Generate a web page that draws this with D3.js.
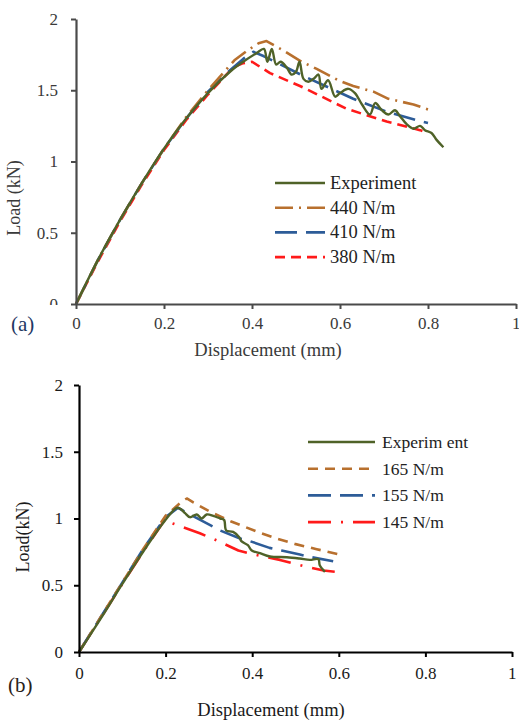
<!DOCTYPE html>
<html lang="en">
<head>
  <meta charset="UTF-8">
  <title>Load vs displacement</title>
  <script src="https://d3js.org/d3.v7.min.js"></script>
  <style>
    body { margin: 0; background: #fff; }
    svg text { font-family: "Liberation Serif", "Times New Roman", serif; }
  </style>
</head>
<body>
  <div id="chart"></div>
  <script>
    // tick values shared by both panels
    const xTicks = [0, 0.2, 0.4, 0.6, 0.8, 1];
    const yTicks = [0, 0.5, 1, 1.5, 2];

    // panel (a): [displacement mm, load kN]
    const expA = [[0,0],[0.05,0.31],[0.1,0.59],[0.15,0.85],[0.2,1.09],[0.25,1.30],[0.3,1.48],[0.35,1.63],[0.38,1.70],[0.41,1.76],
      [0.427,1.79],[0.435,1.70],[0.445,1.79],[0.455,1.68],[0.465,1.70],[0.479,1.66],[0.49,1.61],[0.50,1.63],[0.508,1.70],[0.517,1.58],
      [0.528,1.56],[0.54,1.58],[0.551,1.61],[0.558,1.51],[0.573,1.57],[0.589,1.455],[0.60,1.48],[0.619,1.51],[0.634,1.48],[0.65,1.40],
      [0.668,1.33],[0.68,1.41],[0.695,1.36],[0.71,1.33],[0.725,1.36],[0.736,1.32],[0.752,1.26],[0.767,1.23],[0.782,1.25],[0.793,1.22],
      [0.808,1.20],[0.82,1.15],[0.835,1.10]];
    const k440 = [[0,0],[0.05,0.31],[0.1,0.59],[0.15,0.85],[0.2,1.09],[0.25,1.31],[0.3,1.50],[0.36,1.71],[0.39,1.78],[0.415,1.83],
      [0.433,1.845],[0.471,1.78],[0.513,1.70],[0.547,1.65],[0.596,1.57],[0.63,1.53],[0.676,1.49],[0.71,1.44],[0.767,1.40],[0.805,1.36]];
    const k410 = [[0,0],[0.05,0.31],[0.1,0.59],[0.15,0.85],[0.2,1.09],[0.25,1.30],[0.3,1.49],[0.35,1.64],[0.38,1.72],[0.403,1.77],
      [0.426,1.74],[0.517,1.60],[0.63,1.44],[0.706,1.35],[0.774,1.29],[0.80,1.27]];
    const k380 = [[0,0],[0.05,0.30],[0.1,0.58],[0.15,0.84],[0.2,1.08],[0.25,1.29],[0.3,1.47],[0.357,1.66],[0.38,1.69],[0.40,1.70],
      [0.441,1.62],[0.509,1.53],[0.615,1.37],[0.706,1.28],[0.782,1.22],[0.80,1.20]];

    // panel (b)
    const expB = [[0,0],[0.05,0.25],[0.1,0.51],[0.15,0.76],[0.2,0.99],[0.226,1.08],[0.235,1.07],[0.245,1.04],[0.256,1.01],[0.272,1.03],
      [0.283,1.00],[0.295,1.03],[0.31,1.02],[0.326,1.00],[0.335,0.99],[0.34,0.91],[0.356,0.90],[0.37,0.86],[0.375,0.83],[0.39,0.80],
      [0.399,0.76],[0.418,0.74],[0.441,0.715],[0.48,0.71],[0.51,0.70],[0.533,0.69],[0.553,0.695],[0.556,0.65],[0.568,0.60]];
    const k165 = [[0,0],[0.05,0.26],[0.1,0.52],[0.15,0.78],[0.2,1.02],[0.214,1.06],[0.235,1.12],[0.249,1.15],[0.264,1.12],[0.303,1.05],
      [0.35,0.98],[0.42,0.89],[0.456,0.85],[0.498,0.81],[0.549,0.77],[0.603,0.73]];
    const k155 = [[0,0],[0.05,0.26],[0.1,0.52],[0.15,0.78],[0.2,1.01],[0.229,1.08],[0.256,1.03],[0.303,0.95],[0.326,0.91],[0.372,0.85],
      [0.395,0.83],[0.44,0.78],[0.468,0.76],[0.51,0.73],[0.537,0.71],[0.587,0.68]];
    const k145 = [[0,0],[0.05,0.255],[0.1,0.51],[0.15,0.76],[0.2,1.00],[0.206,0.975],[0.279,0.89],[0.322,0.83],[0.368,0.76],[0.418,0.72],
      [0.464,0.69],[0.518,0.645],[0.565,0.61],[0.595,0.60]];

    const labelsA = ["Experiment", "440 N/m", "410 N/m", "380 N/m"];
    const labelsB = ["Experim ent", "165 N/m", "155 N/m", "145 N/m"];

    const svg = d3.select("#chart").append("svg")
      .attr("width", 519).attr("height", 722);

    // one panel
    function drawPanel(p) {
      const x = d3.scaleLinear().domain([0, 1]).range([p.left, p.right]);
      const y = d3.scaleLinear().domain([0, 2]).range([p.bottom, p.top]);
      const g = svg.append("g");

      const line = d3.line().x(d => x(d[0])).y(d => y(d[1]));

      // series, experiment on top
      const order = [3, 2, 1, 0];
      order.forEach(i => {
        const s = p.series[i];
        g.append("path")
          .datum(s.data)
          .attr("fill", "none")
          .attr("stroke", s.color)
          .attr("stroke-width", i === 0 ? 2.4 : 2.6)
          .attr("stroke-dasharray", s.dash)
          .attr("stroke-linejoin", "round")
          .attr("d", i === 0 ? line.curve(d3.curveCatmullRom)(s.data) : line.curve(d3.curveLinear)(s.data));
      });

      // axes
      const ax = g.append("g")
        .attr("transform", `translate(0,${p.bottom})`)
        .call(d3.axisBottom(x).tickValues(xTicks).tickFormat(d3.format("")).tickSize(5).tickSizeOuter(0).tickPadding(p.xPad));
      const ay = g.append("g")
        .attr("transform", `translate(${p.left},0)`)
        .call(d3.axisLeft(y).tickValues(yTicks).tickFormat(d3.format("")).tickSize(5).tickSizeOuter(0).tickPadding(p.yPad));
      [ax, ay].forEach(a => {
        a.select(".domain").attr("stroke", p.axisColor).attr("stroke-width", 2.2);
        a.selectAll(".tick line").attr("stroke", p.axisColor).attr("stroke-width", 2);
        a.selectAll(".tick text").attr("fill", p.textColor).style("font-size", "17px")
          .style("font-family", '"Liberation Serif", "Times New Roman", serif');
      });
      // keep the last x label inside the page
      ax.selectAll(".tick text").filter(d => d === 1).attr("text-anchor", "end").attr("x", 4);

      // axis titles
      g.append("text")
        .attr("x", p.xTitle[0]).attr("y", p.xTitle[1])
        .attr("text-anchor", "middle")
        .attr("fill", p.textColor)
        .style("font-size", "18.5px")
        .text("Displacement (mm)");
      g.append("text")
        .attr("transform", `translate(${p.yTitle[0]},${p.yTitle[1]}) rotate(-90)`)
        .attr("text-anchor", "middle")
        .attr("fill", p.textColor)
        .style("font-size", "18px")
        .text(p.yLabel);

      // panel tag
      g.append("text")
        .attr("x", p.tag[0]).attr("y", p.tag[1])
        .attr("fill", p.tagColor)
        .style("font-size", "21px")
        .text(p.tagText);

      // legend
      const lg = g.append("g");
      p.series.forEach((s, i) => {
        const ly = p.legend.y + i * p.legend.step;
        lg.append("line")
          .attr("x1", p.legend.x0).attr("x2", p.legend.x1)
          .attr("y1", ly).attr("y2", ly)
          .attr("stroke", s.color).attr("stroke-width", 2.6)
          .attr("stroke-dasharray", s.dash);
        lg.append("text")
          .attr("x", p.legend.tx).attr("y", ly + 6)
          .attr("fill", "#222")
          .style("font-size", p.legend.size)
          .text(s.label);
      });
      return g;
    }

    const green = "#4f6228", brown = "#b8702e", blue = "#2d5c98", red = "#ff1a1a";

    const gA = drawPanel({
      left: 76, right: 516, top: 19, bottom: 304,
      xPad: 8, yPad: 13,
      axisColor: "#4a4a4a", textColor: "#3a3a3a",
      xTitle: [268, 356], yTitle: [20, 198], yLabel: "Load (kN)",
      tag: [11, 331], tagText: "(a)", tagColor: "#1f3864",
      legend: { x0: 275, x1: 325, tx: 330, y: 183, step: 24.7, size: "18.5px" },
      series: [
        { label: labelsA[0], data: expA, color: green, dash: null },
        { label: labelsA[1], data: k440, color: brown, dash: "18,6,2,6" },
        { label: labelsA[2], data: k410, color: blue, dash: "22,9" },
        { label: labelsA[3], data: k380, color: red, dash: "10,6" }
      ]
    });
    // lower half of the "0" label is hidden in the original figure
    gA.append("rect").attr("x", 40).attr("y", 305).attr("width", 30).attr("height", 9).attr("fill", "#fff");

    drawPanel({
      left: 79, right: 512, top: 385, bottom: 652,
      xPad: 10, yPad: 11,
      axisColor: "#000", textColor: "#1a1a1a",
      xTitle: [271, 716], yTitle: [29, 537], yLabel: "Load(kN)",
      tag: [8, 692], tagText: "(b)", tagColor: "#2a2118",
      legend: { x0: 308, x1: 375, tx: 382, y: 442, step: 26.7, size: "17.5px" },
      series: [
        { label: labelsB[0], data: expB, color: green, dash: null },
        { label: labelsB[1], data: k165, color: brown, dash: "10,7" },
        { label: labelsB[2], data: k155, color: blue, dash: "23,9" },
        { label: labelsB[3], data: k145, color: red, dash: "23,10,2,10" }
      ]
    });
  </script>
</body>
</html>
